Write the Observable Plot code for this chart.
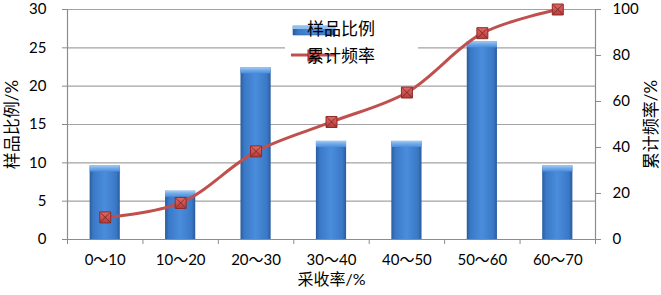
<!DOCTYPE html>
<html>
<head>
<meta charset="utf-8">
<script src="https://cdn.jsdelivr.net/npm/d3@7"></script>
<script src="https://cdn.jsdelivr.net/npm/@observablehq/plot@0.6"></script>
<style>
  html, body { margin: 0; padding: 0; background: white; }
</style>
</head>
<body>
<div id="chart"></div>
<script>
// ---- data ----
const categories = ["0～10", "10～20", "20～30", "30～40", "40～50", "50～60", "60～70"];
const binLow = [0, 10, 20, 30, 40, 50, 60];
const binHigh = [10, 20, 30, 40, 50, 60, 70];
const sampleRatio = [9.6, 6.3, 22.4, 12.8, 12.8, 25.8, 9.6];
const cumulative = [9.6, 15.9, 38.3, 51.1, 63.9, 89.7, 100];
const leftTicks = [0, 5, 10, 15, 20, 25, 30];
const rightTicks = [0, 20, 40, 60, 80, 100];
const seriesNames = ["样品比例", "累计频率"];

const k = 30 / 100; // right axis (0–100) mapped onto left axis (0–30)
const rows = categories.map((c, i) => ({
  cat: c, lo: binLow[i], hi: binHigh[i], mid: (binLow[i] + binHigh[i]) / 2,
  v: sampleRatio[i], cum: cumulative[i]
}));

const W = 661, H = 295, mL = 67, mR = 66, mT = 9, mB = 56;
const step = (W - mL - mR) / categories.length;
const inset = step * 0.3;
const font = "Lato, 'Noto Sans CJK SC', sans-serif";
const grid = "#a3a3a3";
const red = "#c0504d";

const chart = Plot.plot({
  width: W, height: H,
  marginLeft: mL, marginRight: mR, marginTop: mT, marginBottom: mB,
  x: { type: "linear", domain: [0, 70], axis: null },
  y: { domain: [0, 30], axis: null },
  style: { fontFamily: font, fontSize: "15px", color: "#000", background: "white", overflow: "visible" },
  marks: [
    Plot.ruleY(leftTicks.slice(1), { stroke: grid, strokeWidth: 1.2 }),
    Plot.axisY({ anchor: "left", ticks: leftTicks, tickSize: 5, tickPadding: 16, stroke: "#8c8c8c", label: null, fontSize: 15, fill: "#000" }),
    Plot.axisY({ anchor: "right", ticks: rightTicks.map(d => d * k), tickFormat: d => String(Math.round(d / k)), tickSize: 5, tickPadding: 12, stroke: "#8c8c8c", label: null, fontSize: 15, fill: "#000" }),
    Plot.axisX({ ticks: binLow.concat([70]), tickFormat: () => "", tickSize: 5, stroke: "#8c8c8c", label: null }),
    Plot.ruleX([0, 70], { stroke: "#8c8c8c", strokeWidth: 1.2 }),
    Plot.ruleY([0], { stroke: "#8c8c8c", strokeWidth: 1.2 }),
    Plot.rectY(rows, { x1: "lo", x2: "hi", y: "v", insetLeft: inset, insetRight: inset, fill: "url(#barGrad)" }),
    Plot.rectY(rows, { x1: "lo", x2: "hi", y1: d => d.v - 0.8, y2: "v", insetLeft: inset, insetRight: inset, fill: "url(#capGrad)" }),
    Plot.line(rows, { x: "mid", y: d => d.cum * k, curve: "catmull-rom", stroke: red, strokeWidth: 3 }),
    Plot.dot(rows, { x: "mid", y: d => d.cum * k, symbol: "square", r: 6.2, fill: "url(#mkGrad)", stroke: "#8c2a28", strokeWidth: 1 }),
    Plot.dot(rows, { x: "mid", y: d => d.cum * k, symbol: "times", r: 4.4, stroke: "#7e2624", strokeWidth: 0.9 }),
    Plot.text(rows, { x: "mid", y: () => 0, text: "cat", dy: 21, fontSize: 15, fill: "#000" }),
    Plot.text(["采收率/%"], { frameAnchor: "bottom", dy: 45, fontSize: 16, fill: "#000" }),
    Plot.text(["样品比例/%"], { frameAnchor: "left", dx: -55, rotate: -90, textAnchor: "middle", fontSize: 17, fill: "#000" }),
    Plot.text(["累计频率/%"], { frameAnchor: "right", dx: 56, rotate: -90, textAnchor: "middle", fontSize: 17, fill: "#000" })
  ]
});

const svg = d3.select(chart);
const defs = svg.insert("defs", ":first-child");
const bg = defs.append("linearGradient").attr("id", "barGrad").attr("x1", 0).attr("x2", 1).attr("y1", 0).attr("y2", 0);
[[0, "#2a5b9b"], [0.12, "#3a78c6"], [0.5, "#4a8ddc"], [0.88, "#3a78c6"], [1, "#2a5b9b"]]
  .forEach(([o, c]) => bg.append("stop").attr("offset", o).attr("stop-color", c));
const cg = defs.append("linearGradient").attr("id", "capGrad").attr("x1", 0).attr("x2", 0).attr("y1", 0).attr("y2", 1);
[[0, "#a7cdf3"], [0.4, "#77aeea"], [1, "#4a8ddc"]]
  .forEach(([o, c]) => cg.append("stop").attr("offset", o).attr("stop-color", c));
const mg = defs.append("linearGradient").attr("id", "mkGrad").attr("x1", 0).attr("x2", 0).attr("y1", 0).attr("y2", 1);
[[0, "#e06a66"], [1, "#b53d3a"]]
  .forEach(([o, c]) => mg.append("stop").attr("offset", o).attr("stop-color", c));

// legend inside the plot area
const lg = svg.append("g").attr("font-family", font).attr("font-size", 17);
lg.append("rect").attr("x", 285).attr("y", 14).attr("width", 133).attr("height", 50).attr("fill", "white");
lg.append("rect").attr("x", 293).attr("y", 26).attr("width", 42).attr("height", 9).attr("fill", "url(#barGrad)").attr("stroke", "#2a5b9b").attr("stroke-width", 0.6);
lg.append("rect").attr("x", 293).attr("y", 26).attr("width", 42).attr("height", 3).attr("fill", "#8fc0f0");
lg.append("line").attr("x1", 291).attr("x2", 336).attr("y1", 55).attr("y2", 55).attr("stroke", red).attr("stroke-width", 3);
lg.append("rect").attr("x", 308).attr("y", 50).attr("width", 11).attr("height", 11).attr("fill", "url(#mkGrad)").attr("stroke", "#8c2a28");
lg.append("text").attr("x", 341).attr("y", 29).attr("dy", "0.36em").text(seriesNames[0]);
lg.append("text").attr("x", 341).attr("y", 56).attr("dy", "0.36em").text(seriesNames[1]);

document.getElementById("chart").appendChild(chart);
</script>
</body>
</html>
